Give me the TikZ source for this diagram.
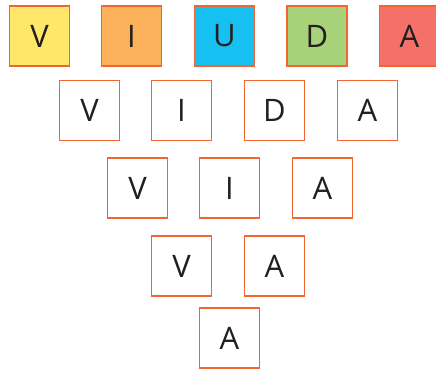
\documentclass[tikz,border=0pt]{standalone}
\usepackage{fontspec}
\setmainfont{Open Sans}
\usepackage{xcolor}
\usepackage{tikz}
\usetikzlibrary{positioning}
\definecolor{boxline}{RGB}{242, 101, 49}
\definecolor{letterink}{RGB}{35, 31, 32}
\definecolor{cyellow}{RGB}{255, 231, 106}
\definecolor{corange}{RGB}{251, 176, 90}
\definecolor{cblue}{RGB}{22, 192, 240}
\definecolor{cgreen}{RGB}{168, 210, 122}
\definecolor{cred}{RGB}{244, 113, 106}

\tikzset{
    letterbox/.style={draw=boxline, line width=1.4pt, minimum size=60pt,
        inner sep=0pt, text=letterink,
        font=\fontsize{31}{31}\selectfont}
}

\begin{document}
\begin{tikzpicture}[x=1pt, y=-1pt]
    % Picture frame (last box runs off the right edge)
    \clip (0,0) rectangle (436,369);

    % Top row: the coloured word
    \foreach \n/\x/\t/\c in {1/39.5/V/cyellow, 2/131.5/I/corange,
                             3/224.5/U/cblue, 4/317/D/cgreen, 5/409.5/A/cred} {
        \node[letterbox, fill=\c] (top\n) at (\x,36) {\t};
    }

    % Second row
    \foreach \n/\x/\t in {1/89.5/V, 2/181.5/I, 3/274.5/D, 4/367.5/A} {
        \node[letterbox] (second\n) at (\x,110.5) {\t};
    }

    % Third row
    \foreach \n/\x/\t in {1/137.5/V, 2/229.5/I, 3/322.5/A} {
        \node[letterbox] (third\n) at (\x,188) {\t};
    }

    % Fourth row
    \foreach \n/\x/\t in {1/181.5/V, 2/274.5/A} {
        \node[letterbox] (fourth\n) at (\x,266) {\t};
    }

    % Bottom box
    \node[letterbox] (last) at (229.5,338) {A};
\end{tikzpicture}
\end{document}
